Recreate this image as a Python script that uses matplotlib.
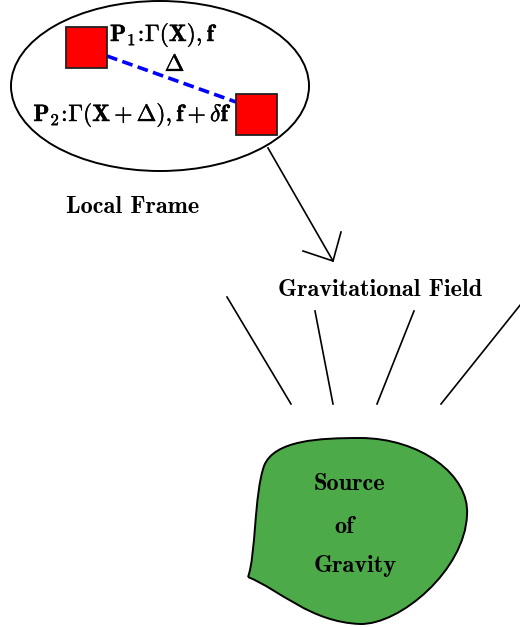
import matplotlib
matplotlib.use("Agg")
import matplotlib.pyplot as plt
from matplotlib.patches import Ellipse, Rectangle, PathPatch
from matplotlib.path import Path
import matplotlib.patheffects as pe

plt.rcParams['mathtext.fontset'] = 'cm'

# diagram pieces, in pixel coordinates (y goes down)
frame_center = (160, 86)
frame_size = (298, 170)
squares = [(66, 27), (236, 94)]
square_side = 41
delta_line = [(107, 56), (236, 102)]
arrow_line = [(268, 148), (333, 261)]
arrow_head = [(303, 251), (333, 261), (341, 232)]
field_lines = [
    [(227, 297), (291, 404)],
    [(315, 311), (333, 404)],
    [(414, 311), (377, 404)],
    [(521, 304), (441, 404)],
]
blob_pts = [
    (248, 577),
    (256, 555), (254, 495), (264, 466),
    (274, 440), (320, 438), (360, 438),
    (420, 438), (470, 475), (467, 515),
    (465, 570), (400, 625), (360, 624),
    (310, 622), (280, 590), (248, 577),
]
math_labels = [
    (110, 35, r"$\mathbf{P_1\!:\!\Gamma(X), f}$", "left"),
    (175, 64, r"$\mathbf{\Delta}$", "center"),
    (232, 115, r"$\mathbf{P_2\!:\!\Gamma(X+\Delta), f+}\delta\mathbf{f}$", "right"),
]
text_labels = [
    (133, 207, "Local Frame"),
    (380, 290, "Gravitational Field"),
    (349, 484, "Source"),
    (344, 527, "of"),
    (355, 566, "Gravity"),
]

fig = plt.figure(figsize=(5.2, 6.27), dpi=100)
ax = fig.add_axes([0, 0, 1, 1])
ax.set_xlim(0, 520)
ax.set_ylim(627, 0)
ax.axis('off')

ax.add_patch(Ellipse(frame_center, *frame_size, fill=False, ec='black', lw=1.4))
for sx, sy in squares:
    ax.add_patch(Rectangle((sx, sy), square_side, square_side, fc='#ff0000', ec='#222222', lw=1.3, zorder=3))

ax.plot(*zip(*delta_line), color='#0000ff', lw=2.6, ls=(0, (3, 1.5)), zorder=2)
ax.plot(*zip(*arrow_line), color='black', lw=1.2)
ax.plot(*zip(*arrow_head), color='black', lw=1.2)
for seg in field_lines:
    ax.plot(*zip(*seg), color='black', lw=1.2)

codes = [Path.MOVETO] + [Path.CURVE4] * (len(blob_pts) - 1)
ax.add_patch(PathPatch(Path(blob_pts, codes), fc='#4daa48', ec='black', lw=1.4))

bold = [pe.withStroke(linewidth=0.3, foreground='black')]
for x, y, s, ha in math_labels:
    ax.text(x, y, s, ha=ha, va='center', fontsize=17, zorder=4, path_effects=bold)
for x, y, s in text_labels:
    ax.text(x, y, s, ha='center', va='center', fontsize=17.5, family='cmb10', zorder=4)

fig.savefig("out.png", dpi=100)
